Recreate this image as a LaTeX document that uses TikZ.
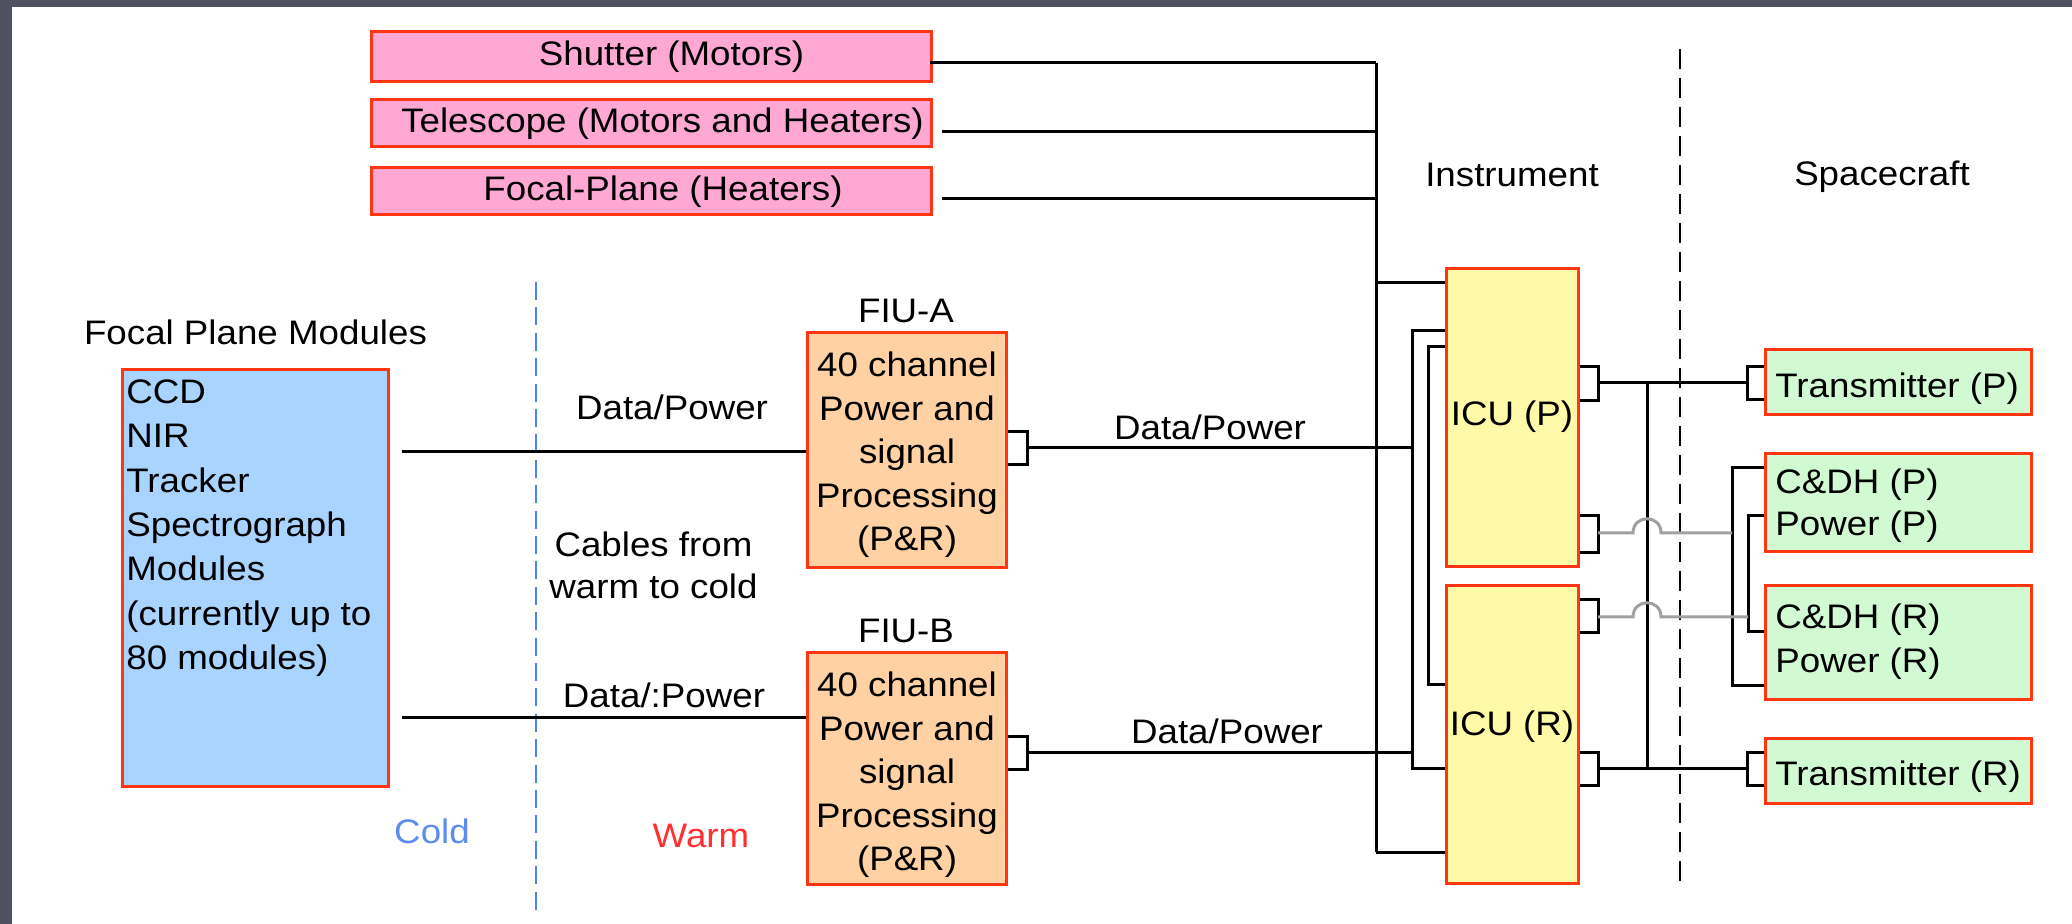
\documentclass[tikz,border=0pt]{standalone}
\usepackage{fontspec}
\setmainfont{Liberation Sans}[FakeStretch=1.08]
\definecolor{framec}{HTML}{4F5161}
\definecolor{pinkf}{HTML}{FFA8D4}
\definecolor{bluef}{HTML}{A8D4FF}
\definecolor{peachf}{HTML}{FFD1A3}
\definecolor{yellowf}{HTML}{FFFAA8}
\definecolor{greenf}{HTML}{D2FAD2}
\definecolor{boxred}{HTML}{FF3514}
\definecolor{wiregray}{HTML}{A0A0A0}
\definecolor{dashblue}{HTML}{4A84EE}
\definecolor{coldc}{HTML}{5B8CF2}
\definecolor{warmc}{HTML}{FF3030}
\begin{document}
\begin{tikzpicture}[x=0.5pt,y=-0.5pt,
  every node/.append style={font=\fontsize{17pt}{22pt}\selectfont},
  box/.style={draw=boxred, line width=1.5pt, inner sep=0pt, anchor=center},
  lbl/.style={inner sep=0pt, text height=12.2pt, text depth=3.6pt},
  wire/.style={line width=1.5pt, draw=black},
  gwire/.style={line width=1.5pt, draw=wiregray},
  bdash/.style={line width=1.1pt, draw=black, dash pattern=on 10pt off 4.5pt},
  bluedash/.style={line width=1pt, draw=dashblue, dash pattern=on 9pt off 3.7pt}]
% background and frame
\fill[white] (0,0) rectangle (2072,924);
\fill[framec] (0,0) rectangle (2072,7);
\fill[framec] (0,0) rectangle (12,924);
\useasboundingbox (0,0) rectangle (2072,924);

% pink boxes
\node[box, fill=pinkf, minimum width=280pt, minimum height=25pt] (shutter) at (651.5,57) {};
\node[box, fill=pinkf, minimum width=280pt, minimum height=23.5pt] (telescope) at (651.5,123.5) {};
\node[box, fill=pinkf, minimum width=280pt, minimum height=23.5pt] (focalpl) at (651.5,191.5) {};
\node[lbl] (shutterT) at (671.5,57) {Shutter (Motors)};
\node[lbl] (telescopeT) at (662.5,123.5) {Telescope (Motors and Heaters)};
\node[lbl] (focalplT) at (663,191.5) {Focal-Plane (Heaters)};

% focal plane modules
\node[box, fill=bluef, minimum width=133pt, minimum height=208.5pt] (fpm) at (255.25,577.75) {};
\node[lbl] (fpmT) at (255.5,336) {Focal Plane Modules};
\foreach \t [count=\i from 0] in {CCD,NIR,Tracker,Spectrograph,Modules,{(currently up to},{80 modules)}}
  \node[lbl, anchor=west] (fpm\i) at (126,395+44.33*\i) {\t};

% FIU boxes
\node[box, fill=peachf, minimum width=99.5pt, minimum height=117.5pt] (fiua) at (907,450) {};
\node[box, fill=peachf, minimum width=99.5pt, minimum height=116pt] (fiub) at (907,768.5) {};
\node[lbl] (fiuaL) at (906,314) {FIU-A};
\node[lbl] (fiubL) at (906,634) {FIU-B};
\foreach \t [count=\i from 0] in {{40 channel},{Power and},{signal},{Processing},{(P\&R)}} {
  \node[lbl] (fiua\i) at (907,368+43.5*\i) {\t};
  \node[lbl] (fiub\i) at (907,688+43.5*\i) {\t};
}

% ICU boxes
\node[box, fill=yellowf, minimum width=66pt, minimum height=149pt] (icup) at (1512.25,417.5) {};
\node[box, fill=yellowf, minimum width=66pt, minimum height=149pt] (icur) at (1512.25,734.5) {};
\node[lbl] (icupT) at (1512,417) {ICU (P)};
\node[lbl] (icurT) at (1512,727) {ICU (R)};

% spacecraft boxes
\node[box, fill=greenf, minimum width=133pt, minimum height=32.5pt] (txp) at (1898.5,382) {};
\node[box, fill=greenf, minimum width=133pt, minimum height=49pt] (cdhp) at (1898.5,502.5) {};
\node[box, fill=greenf, minimum width=133pt, minimum height=57pt] (cdhr) at (1898.5,642.5) {};
\node[box, fill=greenf, minimum width=133pt, minimum height=32.5pt] (txr) at (1898.5,771) {};
\node[lbl, anchor=west] (txpT) at (1775,389) {Transmitter (P)};
\node[lbl, anchor=west] (cdhpT1) at (1775,485) {C\&DH (P)};
\node[lbl, anchor=west] (cdhpT2) at (1775,527) {Power (P)};
\node[lbl, anchor=west] (cdhrT1) at (1775,620) {C\&DH (R)};
\node[lbl, anchor=west] (cdhrT2) at (1775,664) {Power (R)};
\node[lbl, anchor=west] (txrT) at (1775,777) {Transmitter (R)};

% free labels
\node[lbl] (instr) at (1512,178) {Instrument};
\node[lbl] (space) at (1882,177) {Spacecraft};
\node[lbl] (dpa) at (672,411) {Data/Power};
\node[lbl] (dpb) at (664,699) {Data/:Power};
\node[lbl] (dpc) at (1210,431) {Data/Power};
\node[lbl] (dpd) at (1227,735) {Data/Power};
\node[lbl] (cab1) at (653.5,548) {Cables from};
\node[lbl] (cab2) at (653.5,590) {warm to cold};
\node[lbl, text=coldc] (cold) at (432,835) {Cold};
\node[lbl, text=warmc] (warm) at (701,839) {Warm};

% dashed separators
\coordinate (bdt) at (536,282); \coordinate (bdb) at (536,916);
\draw[bluedash] (bdt) -- (bdb);
\coordinate (kdt) at (1680,49); \coordinate (kdb) at (1680,883);
\draw[bdash] (kdt) -- (kdb);

% top harness bus
\coordinate (m1) at (1376,63); \coordinate (m2) at (1376,132);
\coordinate (m3) at (1376,199); \coordinate (m4) at (1376,283);
\coordinate (m5) at (1376,852);
\draw[wire] (shutter.east |- m1) ++(-3,0) -- (m1);
\draw[wire] (telescope.east |- m2) ++(9,0) -- (m2);
\draw[wire] (focalpl.east |- m3) ++(9,0) -- (m3);
\draw[wire] (m1) -- (m5);
\draw[wire] (m4) -- (m4 -| icup.west);
\draw[wire] (m5) -- (m5 -| icur.west);

% ICU cross buses
\coordinate (b1t) at (1412,331); \coordinate (b1b) at (1412,768);
\draw[wire] (b1t -| icup.west) -- (b1t) -- (b1b) -- (b1b -| icur.west);
\coordinate (b2t) at (1428.5,347); \coordinate (b2b) at (1428.5,684);
\draw[wire] (b2t -| icup.west) -- (b2t) -- (b2b) -- (b2b -| icur.west);

% FIU connectors
\coordinate (fa1) at (1027,432); \coordinate (fa2) at (1027,465); \coordinate (fao) at (1027,448);
\draw[wire] (fa1 -| fiua.east) -- (fa1) -- (fa2) -- (fa2 -| fiua.east);
\draw[wire] (fao) -- (fao -| b1t);
\coordinate (fb1) at (1027,736); \coordinate (fb2) at (1027,769); \coordinate (fbo) at (1027,752);
\draw[wire] (fb1 -| fiub.east) -- (fb1) -- (fb2) -- (fb2 -| fiub.east);
\draw[wire] (fbo) -- (fbo -| b1t);

% cold side cables
\coordinate (la) at (402,452); \coordinate (lb) at (402,717);
\draw[wire] (la) -- (la -| fiua.west);
\draw[wire] (lb) -- (lb -| fiub.west);

% ICU output brackets
\foreach \ya/\yb in {367/401,516/553,600/633,752/785} {
  \draw[wire] (icup.east |- 0,\ya) -- (1598,\ya) -- (1598,\yb) -- (icup.east |- 0,\yb);
}
% transmitter brackets
\coordinate (tb1) at (1747,367); \coordinate (tb2) at (1747,400);
\draw[wire] (tb1 -| txp.west) -- (tb1) -- (tb2) -- (tb2 -| txp.west);
\coordinate (tb3) at (1747,752); \coordinate (tb4) at (1747,785);
\draw[wire] (tb3 -| txr.west) -- (tb3) -- (tb4) -- (tb4 -| txr.west);

% transmitter links
\coordinate (p1o) at (1598,383); \coordinate (tpi) at (1747,383);
\coordinate (r2o) at (1598,768); \coordinate (tri) at (1747,768);
\draw[wire] (p1o) -- (tpi);
\draw[wire] (r2o) -- (tri);
\coordinate (v1) at (1647,383); \coordinate (v2) at (1647,768);
\draw[wire] (v1) -- (v2);

% C&DH buses
\coordinate (c1t) at (1732,468); \coordinate (c1b) at (1732,685);
\draw[wire] (c1t -| cdhp.west) -- (c1t) -- (c1b) -- (c1b -| cdhr.west);
\coordinate (c2t) at (1748,516); \coordinate (c2b) at (1748,632);
\draw[wire] (c2t -| cdhp.west) -- (c2t) -- (c2b) -- (c2b -| cdhr.west);

% gray links with hops
\coordinate (p2o) at (1598,533); \coordinate (r1o) at (1598,617);
\draw[gwire] (p2o) -- (1633,533) .. controls (1633,514) and (1661,514) .. (1661,533) -- (c1t |- p2o);
\draw[gwire] (r1o) -- (1633,617) .. controls (1633,598) and (1661,598) .. (1661,617) -- (c2t |- r1o);
\end{tikzpicture}
\end{document}
